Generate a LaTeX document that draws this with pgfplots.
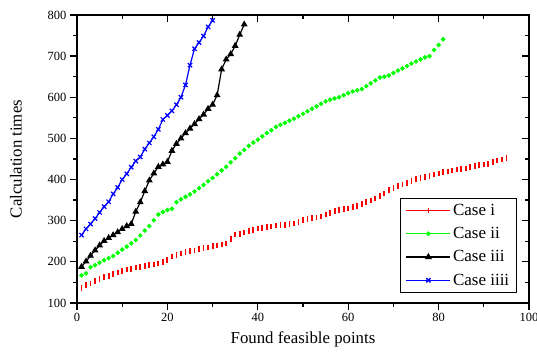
\documentclass[border=0pt]{standalone}
\usepackage{fontspec}
\setmainfont{Liberation Serif}
\usepackage{pgfplots}
\pgfplotsset{compat=1.18}
\begin{document}
\begin{tikzpicture}
\pgfplotsset{
  common/.style={
    scale only axis, width=452bp, height=288bp,
    xmin=0, xmax=100, ymin=100, ymax=800,
    xtick={0,20,...,100}, ytick={100,200,...,800},
    minor x tick num=1, minor y tick num=1,
    major tick length=7bp, minor tick length=4bp,
    every tick/.style={black, line width=1.3bp},
    /pgf/number format/assume math mode=true,
    ticklabel style={font=\fontsize{12.5bp}{14bp}\selectfont},
  }
}
\begin{axis}[common, name=ax,
  tick pos=left, tick align=outside,
  axis line style={line width=1.6bp},
  xlabel={Found feasible points}, ylabel={Calculation times},
  every axis x label/.style={at={(rel axis cs:0.5,-0.128)}, anchor=center, font=\fontsize{16.8bp}{18bp}\selectfont},
  every axis y label/.style={at={(rel axis cs:-0.135,0.5)}, rotate=90, anchor=center, font=\fontsize{16.8bp}{18bp}\selectfont},
  legend style={at={(rel axis cs:0.973,0.034)}, anchor=south east, draw=black, line width=1.2bp,
    font=\fontsize{17bp}{19bp}\selectfont, row sep=6.5bp, inner xsep=5bp, inner ysep=4bp},
  legend cell align=left,
  legend image code/.code={\draw[mark repeat=2,mark phase=2,#1,sharp plot,line width=1.3bp] plot coordinates {(0bp,0bp) (22bp,0bp) (44bp,0bp)};},
]
\addplot[red, only marks, mark=|, mark size=2.8bp, line width=1.8bp] coordinates {
(1,136)(2,143)(3,147)(4,153)(5,158)(6,163)(7,166)(8,171)(9,174)(10,178)
(11,181)(12,183)(13,186)(14,188)(15,190)(16,193)(17,194)(18,196)(19,200)(20,205)
(21,213)(22,216)(23,220)(24,224)(25,226)(26,228)(27,231)(28,233)(29,235)(30,238)
(31,240)(32,242)(33,245)(34,255)(35,266)(36,268)(37,271)(38,275)(39,278)(40,281)
(41,282)(42,284)(43,286)(44,288)(45,289)(46,290)(47,292)(48,293)(49,297)(50,301)
(51,304)(52,306)(53,308)(54,310)(55,315)(56,319)(57,323)(58,326)(59,328)(60,330)
(61,333)(62,336)(63,340)(64,345)(65,349)(66,354)(67,360)(68,366)(69,375)(70,380)
(71,385)(72,388)(73,391)(74,396)(75,401)(76,404)(77,406)(78,409)(79,412)(80,415)
(81,418)(82,420)(83,422)(84,424)(85,426)(86,427)(87,430)(88,433)(89,435)(90,437)
(91,438)(92,442)(93,446)(94,449)(95,452)};
\addlegendentry{Case i}
\addplot[green, only marks, mark=*, mark size=1.6bp, line width=1.2bp] coordinates {
(1,167)(2,172)(3,187)(4,192)(5,198)(6,204)(7,209)(8,214)(9,222)(10,230)
(11,237)(12,245)(13,253)(14,264)(15,276)(16,287)(17,301)(18,315)(19,321)(20,326)
(21,329)(22,345)(23,352)(24,358)(25,364)(26,371)(27,379)(28,387)(29,396)(30,404)
(31,413)(32,422)(33,431)(34,442)(35,452)(36,463)(37,472)(38,482)(39,490)(40,497)
(41,505)(42,513)(43,520)(44,528)(45,533)(46,538)(47,543)(48,548)(49,554)(50,560)
(51,566)(52,572)(53,578)(54,584)(55,590)(56,594)(57,597)(58,600)(59,605)(60,610)
(61,614)(62,617)(63,620)(64,627)(65,634)(66,641)(67,648)(68,650)(69,653)(70,659)
(71,665)(72,670)(73,676)(74,682)(75,687)(76,692)(77,697)(78,700)(79,715)(80,727)
(81,741)};
\addlegendentry{Case ii}
\addplot[black, mark=triangle*, mark size=2.8bp, line width=1.2bp] coordinates {
(1,188)(2,201)(3,215)(4,228)(5,240)(6,251)(7,258)(8,265)(9,272)(10,280)
(11,287)(12,292)(13,322)(14,345)(15,372)(16,398)(17,415)(18,431)(19,437)(20,443)
(21,470)(22,487)(23,500)(24,513)(25,524)(26,535)(27,547)(28,558)(29,572)(30,582)
(31,605)(32,668)(33,692)(34,705)(35,725)(36,752)(37,777)};
\addlegendentry{Case iii}
\addplot[blue, mark=x, mark size=3bp, line width=1.2bp] coordinates {
(1,265)(2,280)(3,292)(4,305)(5,320)(6,334)(7,346)(8,365)(9,381)(10,400)
(11,414)(12,430)(13,445)(14,455)(15,474)(16,489)(17,504)(18,522)(19,546)(20,556)
(21,567)(22,582)(23,600)(24,630)(25,678)(26,718)(27,733)(28,749)(29,771)(30,787)};
\addlegendentry{Case iiii}
\end{axis}
\begin{axis}[common, at={(ax.south west)}, anchor=south west,
  tick pos=right, tick align=inside, xticklabels={}, yticklabels={},
  axis line style={draw=none}]
\end{axis}
\pgfresetboundingbox
\path[use as bounding box] ([xshift=-77bp,yshift=-51bp]ax.south west) rectangle ([xshift=8bp,yshift=15bp]ax.north east);
\end{tikzpicture}
\end{document}
